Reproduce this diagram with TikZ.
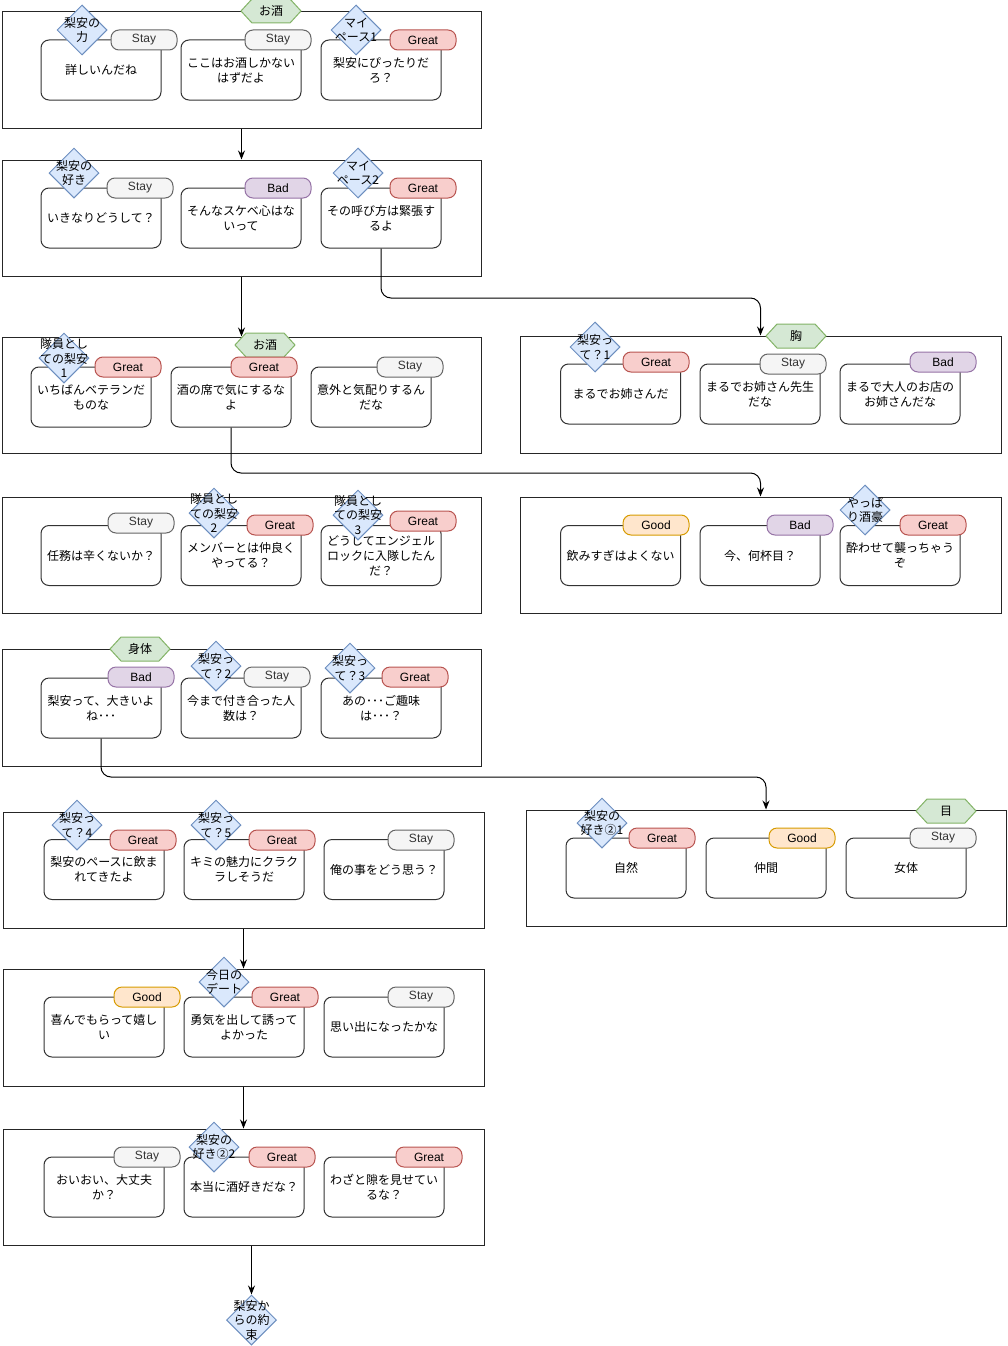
\documentclass[tikz,border=0pt]{standalone}
\usepackage{fontspec}
\newfontfamily\jp{Noto Sans CJK JP}
\newfontfamily\lat{Liberation Sans}
\usetikzlibrary{shapes.geometric,arrows.meta,calc}
\definecolor{stayfill}{HTML}{F5F5F5}
\definecolor{stayline}{HTML}{666666}
\definecolor{staytext}{HTML}{333333}
\definecolor{greatfill}{HTML}{F8CECC}
\definecolor{greatline}{HTML}{B85450}
\definecolor{badfill}{HTML}{E1D5E7}
\definecolor{badline}{HTML}{9673A6}
\definecolor{goodfill}{HTML}{FFE6CC}
\definecolor{goodline}{HTML}{D79B00}
\definecolor{diafill}{HTML}{DAE8FC}
\definecolor{dialine}{HTML}{6C8EBF}
\definecolor{hexfill}{HTML}{D5E8D4}
\definecolor{hexline}{HTML}{82B366}
\tikzset{
  grp/.style={draw=black!85, line width=1pt, inner sep=0pt},
  card/.style={draw=black!80, fill=white, rounded corners=8pt, minimum width=120pt, minimum height=60pt, inner sep=0pt, align=center, font=\jp\fontsize{12}{15}\selectfont, line width=1pt},
  pill/.style={rounded corners=8pt, minimum width=66pt, minimum height=20pt, inner sep=0pt, font=\lat\fontsize{12}{14}\selectfont, line width=1pt},
  stay/.style={pill, fill=stayfill, draw=stayline, text=staytext},
  great/.style={pill, fill=greatfill, draw=greatline},
  bad/.style={pill, fill=badfill, draw=badline},
  good/.style={pill, fill=goodfill, draw=goodline},
  dia/.style={diamond, draw=dialine, fill=diafill, minimum width=50pt, minimum height=50pt, inner sep=0pt, line width=1pt},
  diatext/.style={align=center, inner sep=0pt, font=\jp\fontsize{12}{14.5}\selectfont},
  hexshape/.style={fill=hexfill, draw=hexline, line width=1pt},
  hextext/.style={inner sep=0pt, font=\jp\fontsize{12}{14}\selectfont},
  edge/.style={draw=black, line width=1pt, -{Stealth[length=9pt,width=7pt]}, rounded corners=10pt}
}
\newcommand\hexlbl[4]{%
  \filldraw[hexshape] (#2-30,#3) -- (#2-19,#3-12) -- (#2+19,#3-12) -- (#2+30,#3) -- (#2+19,#3+12) -- (#2-19,#3+12) -- cycle;
  \node[hextext] (#1) at (#2,#3) {#4};}
\newcommand\dia[4]{%
  \node[dia] (#1) at (#2,#3) {};
  \node[diatext] (#1t) at (#1) {#4};}
\begin{document}
\begin{tikzpicture}[x=1pt,y=-1pt]
\useasboundingbox (0,0) rectangle (1007,1346);
% groups
\node[grp, minimum width=479pt, minimum height=116pt] (g1) at (241.5,70) {};
\node[grp, minimum width=479pt, minimum height=116pt] (g2) at (241.5,218) {};
\node[grp, minimum width=479pt, minimum height=116pt] (g3) at (241.5,395) {};
\node[grp, minimum width=481pt, minimum height=117pt] (g4) at (760.5,394.5) {};
\node[grp, minimum width=479pt, minimum height=116pt] (g5) at (241.5,555) {};
\node[grp, minimum width=481pt, minimum height=116pt] (g6) at (760.5,555) {};
\node[grp, minimum width=479pt, minimum height=117pt] (g7) at (241.5,707.5) {};
\node[grp, minimum width=481pt, minimum height=116pt] (g8) at (243.5,870) {};
\node[grp, minimum width=480pt, minimum height=116pt] (g9) at (766,868) {};
\node[grp, minimum width=481pt, minimum height=117pt] (g10) at (243.5,1027.5) {};
\node[grp, minimum width=481pt, minimum height=116pt] (g11) at (243.5,1187) {};
% hexagons
\hexlbl{h1}{271}{11}{お酒}
\hexlbl{h3}{265}{345}{お酒}
\hexlbl{h4}{796}{336}{胸}
\hexlbl{h7}{140}{649}{身体}
\hexlbl{h9}{946}{811}{目}
% cards row 1
\node[card] (c1a) at (101,70) {詳しいんだね};
\node[card] (c1b) at (241,70) {ここはお酒しかない\\はずだよ};
\node[card] (c1c) at (381,70) {梨安にぴったりだ\\ろ？};
\node[stay] (p1a) at (144,40) {Stay};
\node[stay] (p1b) at (278,40) {Stay};
\node[great] (p1c) at (423,40) {Great};
\dia{d1a}{82}{30}{梨安の\\力}
\dia{d1c}{356}{30}{マイ\\ペース1}
% row 2
\node[card] (c2a) at (101,218) {いきなりどうして？};
\node[card] (c2b) at (241,218) {そんなスケベ心はな\\いって};
\node[card] (c2c) at (381,218) {その呼び方は緊張す\\るよ};
\node[stay] (p2a) at (140,188) {Stay};
\node[bad] (p2b) at (278,188) {Bad};
\node[great] (p2c) at (423,188) {Great};
\dia{d2a}{74}{173}{梨安の\\好き}
\dia{d2c}{358}{173}{マイ\\ペース2}
% row 3 left
\node[card] (c3a) at (91,397) {いちばんベテランだ\\ものな};
\node[card] (c3b) at (231,397) {酒の席で気にするな\\よ};
\node[card] (c3c) at (371,397) {意外と気配りするん\\だな};
\node[great] (p3a) at (128,367) {Great};
\node[great] (p3b) at (264,367) {Great};
\node[stay] (p3c) at (410,367) {Stay};
\dia{d3a}{64}{358}{隊員とし\\ての梨安\\1}
% row 3 right
\node[card] (c4a) at (620.5,394) {まるでお姉さんだ};
\node[card] (c4b) at (760,394) {まるでお姉さん先生\\だな};
\node[card] (c4c) at (900,394) {まるで大人のお店の\\お姉さんだな};
\node[great] (p4a) at (656,362) {Great};
\node[stay] (p4b) at (793,364) {Stay};
\node[bad] (p4c) at (943,362) {Bad};
\dia{d4a}{595}{347}{梨安っ\\て？1}
% row 4 left
\node[card] (c5a) at (101,555.5) {任務は辛くないか？};
\node[card] (c5b) at (241,555.5) {メンバーとは仲良く\\やってる？};
\node[card] (c5c) at (381,555.5) {どうしてエンジェル\\ロックに入隊したん\\だ？};
\node[stay] (p5a) at (141,523) {Stay};
\node[great] (p5b) at (280,525) {Great};
\node[great] (p5c) at (423,521) {Great};
\dia{d5b}{214}{513}{隊員とし\\ての梨安\\2}
\dia{d5c}{358}{515}{隊員とし\\ての梨安\\3}
% row 4 right
\node[card] (c6a) at (620.5,555.5) {飲みすぎはよくない};
\node[card] (c6b) at (760,555.5) {今、何杯目？};
\node[card] (c6c) at (900,555.5) {酔わせて襲っちゃう\\ぞ};
\node[good] (p6a) at (656,525) {Good};
\node[bad] (p6b) at (800,525) {Bad};
\node[great] (p6c) at (933,525) {Great};
\dia{d6c}{865}{510}{やっぱ\\り酒豪}
% row 5
\node[card] (c7a) at (101,708) {梨安って、大きいよ\\ね･･･};
\node[card] (c7b) at (241,708) {今まで付き合った人\\数は？};
\node[card] (c7c) at (381,708) {あの･･･ご趣味\\は･･･？};
\node[bad] (p7a) at (141,677) {Bad};
\node[stay] (p7b) at (277,677) {Stay};
\node[great] (p7c) at (415,677) {Great};
\dia{d7b}{216}{666}{梨安っ\\て？2}
\dia{d7c}{350}{668}{梨安っ\\て？3}
% row 6 left
\node[card] (c8a) at (104,869.5) {梨安のペースに飲ま\\れてきたよ};
\node[card] (c8b) at (244,869.5) {キミの魅力にクラク\\ラしそうだ};
\node[card] (c8c) at (384,869.5) {俺の事をどう思う？};
\node[great] (p8a) at (143,840) {Great};
\node[great] (p8b) at (282,840) {Great};
\node[stay] (p8c) at (421,840) {Stay};
\dia{d8a}{77}{825}{梨安っ\\て？4}
\dia{d8b}{216}{825}{梨安っ\\て？5}
% row 6 right
\node[card] (c9a) at (626,868) {自然};
\node[card] (c9b) at (766,868) {仲間};
\node[card] (c9c) at (906,868) {女体};
\node[great] (p9a) at (662,838) {Great};
\node[good] (p9b) at (802,838) {Good};
\node[stay] (p9c) at (943,838) {Stay};
\dia{d9a}{602}{823}{梨安の\\好き②1}
% row 7
\node[card] (c10a) at (104,1027) {喜んでもらって嬉し\\い};
\node[card] (c10b) at (244,1027) {勇気を出して誘って\\よかった};
\node[card] (c10c) at (384,1027) {思い出になったかな};
\node[good] (p10a) at (147,997) {Good};
\node[great] (p10b) at (285,997) {Great};
\node[stay] (p10c) at (421,997) {Stay};
\dia{d10b}{224}{982}{今日の\\デート}
% row 8
\node[card] (c11a) at (104,1187) {おいおい、大丈夫\\か？};
\node[card] (c11b) at (244,1187) {本当に酒好きだな？};
\node[card] (c11c) at (384,1187) {わざと隙を見せてい\\るな？};
\node[stay] (p11a) at (147,1157) {Stay};
\node[great] (p11b) at (282,1157) {Great};
\node[great] (p11c) at (429,1157) {Great};
\dia{d11b}{214}{1147}{梨安の\\好き②2}
% final
\dia{fin}{251.5}{1320}{梨安か\\らの約\\束}
% edges
\coordinate (k1) at (760.5,298);
\coordinate (k2) at (760.5,473);
\coordinate (k3) at (766,777);
\draw[edge] (g1.south) -- (g2.north);
\draw[edge] (g2.south) -- (g3.north);
\draw[edge] (c2c.south) |- (k1) -- (g4.north);
\draw[edge] (c3b.south) |- (k2) -- (g6.north);
\draw[edge] (c7a.south) |- (k3) -- (g9.north);
\draw[edge] (g8.south) -- (g10.north);
\draw[edge] (g10.south) -- (g11.north);
\draw[edge] (fin |- g11.south) -- (fin.north);
\end{tikzpicture}
\end{document}
